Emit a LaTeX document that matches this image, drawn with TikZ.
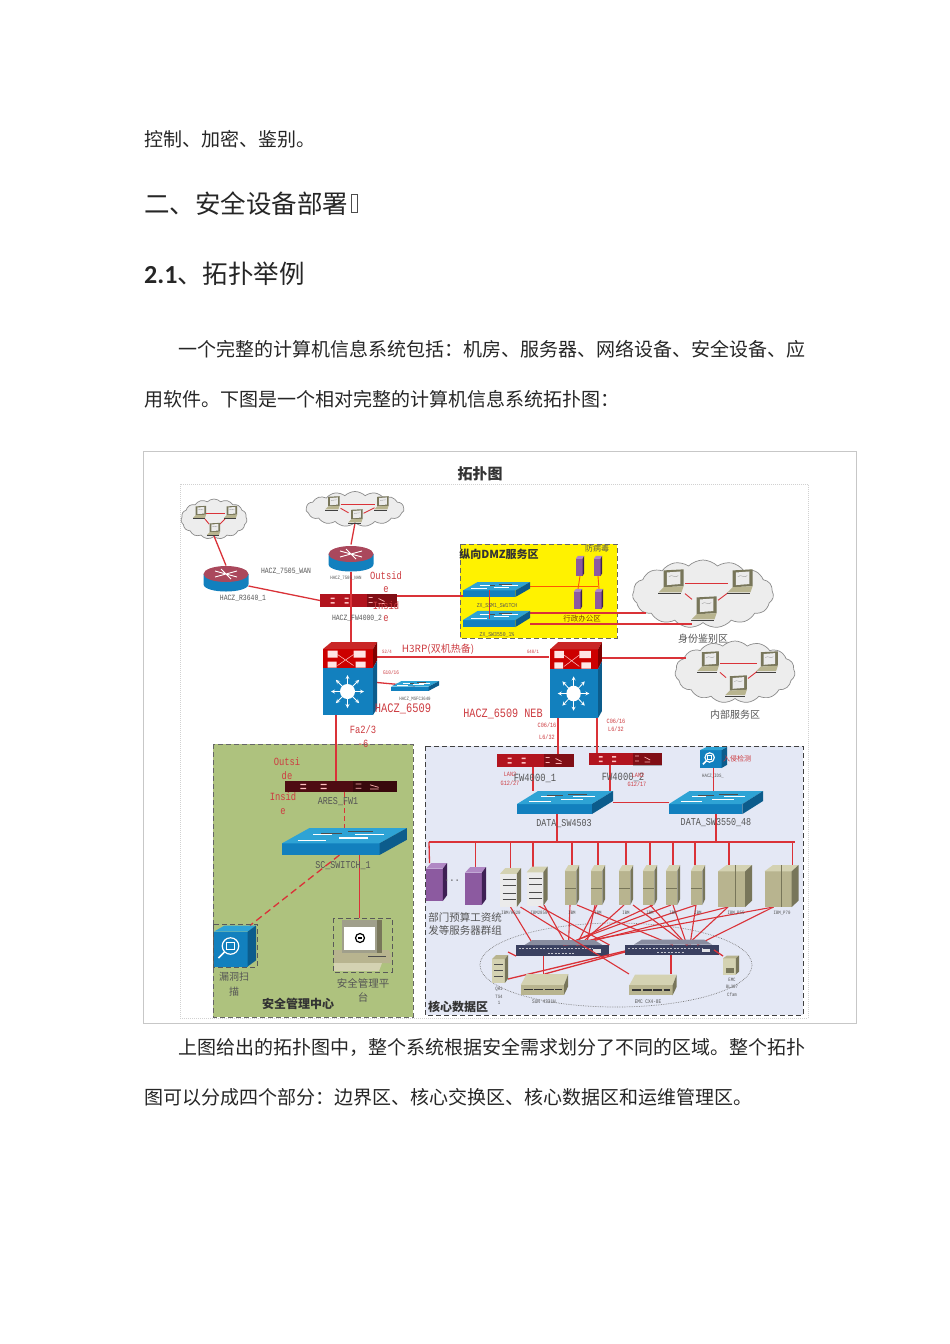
\documentclass[tikz,border=0pt]{standalone}
\usepackage{fontspec}
\usepackage{xcolor}
\usetikzlibrary{shapes.symbols}
\newfontfamily\cjk{Noto Sans CJK SC}
\newfontfamily\lab[FakeStretch=0.8]{Liberation Mono}
\newfontfamily\carl{Carlito}
\newcommand{\fs}[1]{\fontsize{#1}{#1}\selectfont}
\definecolor{redln}{RGB}{218,50,56}
\definecolor{redtx}{RGB}{205,60,65}
\definecolor{gytx}{RGB}{85,85,85}
\definecolor{swtop}{RGB}{46,163,213}
\definecolor{swfront}{RGB}{18,128,190}
\definecolor{swside}{RGB}{12,92,140}
\definecolor{tanf}{RGB}{184,180,143}
\definecolor{tans}{RGB}{120,118,90}
\definecolor{tant}{RGB}{212,210,178}
\definecolor{purf}{RGB}{140,90,160}
\definecolor{purs}{RGB}{62,32,84}
\definecolor{purt}{RGB}{176,136,196}
\definecolor{fwred}{RGB}{178,20,30}
\definecolor{fwdark}{RGB}{78,12,18}
\definecolor{fcslate}{RGB}{58,64,96}
\definecolor{zonegreen}{RGB}{174,194,126}
\definecolor{zoneblue}{RGB}{228,232,245}
\definecolor{rtrtop}{RGB}{170,72,92}
\tikzset{
    bodytxt/.style={anchor=west,inner sep=0pt,font=\cjk\fs{19},text=black!85},
    headtxt/.style={anchor=west,inner sep=0pt,font=\cjk\fs{25.5},text=black!85},
    zhlab/.style={inner sep=0pt,font=\cjk\fs{#1},text=gytx},
    zhbold/.style={inner sep=0pt,font=\cjk\bfseries\fs{#1},text=black!80},
    redzh/.style={inner sep=0pt,font=\cjk\fs{#1},text=redtx},
    redlab/.style={inner sep=0pt,font=\lab\fs{#1},text=redtx},
    gylab/.style={inner sep=0pt,font=\lab\fs{#1},text=gytx},
    devbox/.style={inner sep=0pt,outer sep=0pt},
    netcloud/.style={cloud,cloud puffs=15,cloud puff arc=90,aspect=2,inner sep=0pt,draw=black!45,fill=black!7,line width=.7pt},
    zonebox/.style={draw=black!60,dashed,dash pattern=on 5pt off 3pt,line width=.9pt},
    link/.style={draw=redln,line width=1.3pt},
    thinlink/.style={draw=redln,line width=.9pt},
    fwbox/.style={devbox,fill=#1},
    pics/lap/.style={code={
        \fill[tans] (-8,-12) -- (11,-13) -- (11,3) -- (-8,4) -- cycle;
        \fill[black!8] (-5,-10) -- (8,-11) -- (8,1) -- (-5,2) -- cycle;
        \draw[black!45,line width=.3pt] (-3,-6) .. controls (0,-9) and (3,-4) .. (6,-7);
        \fill[tanf] (-8,4) -- (11,3) -- (9,9) -- (-13,9) -- cycle;
        \draw[black!75,line width=.8pt] (-13,10) -- (9,10);
    }},
    pics/router/.style={code={
        \fill[swfront] (-22.5,-4) -- (-22.5,6) .. controls (-22.5,16) and (22.5,16) .. (22.5,6) -- (22.5,-4) -- cycle;
        \fill[rtrtop] (0,-4) ellipse [x radius=22.5,y radius=8];
        \draw[white,line width=.9pt] (-11,-7) -- (11,-1) (-11,-1) -- (11,-7) (-5,-9) -- (5,1);
    }},
    pics/swpic/.style={code={
        \fill[swfront] (-48,1.5) -- (27,1.5) -- (27,11.5) -- (-48,11.5) -- cycle;
        \fill[swtop] (-48,1.5) -- (27,1.5) -- (48,-11.5) -- (-27,-11.5) -- cycle;
        \fill[swside] (27,1.5) -- (48,-11.5) -- (48,-1.5) -- (27,11.5) -- cycle;
        \draw[black!70,line width=.6pt] (-18,-7) -- (-2,-7) (3,-8.5) -- (22,-8.5);
        \draw[white,line width=1.1pt] (-36,-1) -- (-14,-1) (-4,-3) -- (18,-3) (-24,-6) -- (-10,-6) (8,-6) -- (30,-6);
    }},
    pics/core/.style={code={
        \fill[red!80!black] (-26.5,-29.5) -- (23.5,-29.5) -- (23.5,-10.5) -- (-26.5,-10.5) -- cycle;
        \fill[red!75!black!85!white] (-26.5,-29.5) -- (-18,-36.5) -- (27.5,-36.5) -- (23.5,-29.5) -- cycle;
        \fill[red!50!black] (23.5,-29.5) -- (27.5,-36.5) -- (27.5,-18) -- (23.5,-10.5) -- cycle;
        \fill[white!90!red] (-22,-28) rectangle (-12,-21) (4,-28) rectangle (16,-21) (-22,-17) rectangle (-13,-11) (6,-17) rectangle (16,-11);
        \draw[white!80!red,line width=.5pt] (-12,-24) -- (4,-13) (-12,-13) -- (4,-24);
        \fill[swfront] (-27,-10.5) rectangle (23.5,36.5);
        \fill[swside] (23.5,-10.5) -- (27.5,-18) -- (27.5,30) -- (23.5,36.5) -- cycle;
        \fill[white] (-2,13) circle (7.5);
        \foreach \ang in {0,45,...,315}
            \draw[white,line width=.8pt,-stealth] (-2,13) ++(\ang:7) -- ++(\ang:9.5);
    }},
    pics/cube/.style n args={3}{code={
        \fill[#1] (-10,-7) rectangle (6,10);
        \fill[#3] (-10,-7) -- (-5,-10) -- (10,-10) -- (6,-7) -- cycle;
        \fill[#2] (6,-7) -- (10,-10) -- (10,7) -- (6,10) -- cycle;
    }},
    pics/stor/.style={code={
        \fill[tant] (-23.7,0.3) -- (-18,-10.3) -- (23.7,-10.3) -- (19.6,0.3) -- cycle;
        \fill[tanf] (-23.7,0.3) rectangle (19.6,10.3);
        \fill[tans] (19.6,0.3) -- (23.7,-10.3) -- (23.7,1.7) -- (19.6,10.3) -- cycle;
        \draw[black!80,line width=1.6pt,dash pattern=on 9pt off 1.5pt] (-21,5) -- (17,5);
    }},
    pics/fcdet/.style={code={
        \fill[fcslate!60!white] (-38,-5.5) -- (-30,-10.5) -- (32,-10.5) -- (40,-5.5) -- cycle;
        \draw[white!70!fcslate,line width=1pt,dash pattern=on 2pt off 1.5pt] (-44,-2) -- (30,-2);
        \draw[white!70!fcslate,line width=.7pt,dash pattern=on 2pt off 1.5pt] (-15,2.5) -- (12,2.5);
        \fill[white!85!fcslate] (30,-1.5) rectangle (38,2);
    }},
    pics/lens/.style={code={
        \draw[white,line width=1.2pt] (-1,0) circle (5.5);
        \draw[white,line width=1.6pt] (-5,4) -- (-9,8);
        \draw[white,line width=.9pt] (-3.5,-2.5) rectangle (1.5,2.5);
    }},
    pics/fwmarks/.style={code={
        \fill[black,opacity=.28] (8,-6.5) rectangle (38.5,6.5);
        \fill[white!75!red] (-28,-3) rectangle (-24,-1.5) (-28,1.5) rectangle (-24,3) (-14,-3) rectangle (-10,-1.5) (-14,1.5) rectangle (-10,3);
        \draw[white!70!red,line width=.7pt] (10,-3) -- (14,-3) (10,2) -- (14,2) (20,-2) -- (26,1) (20,3) -- (26,3);
    }},
    pics/pc/.style={code={
        \fill[tanf] (-28,5) -- (27,5) -- (29,10) -- (29,18) -- (-28,18) -- cycle;
        \fill[tans!70!white] (-20,-25) -- (20,-25) -- (20,8) -- (-20,8) -- cycle;
        \fill[tans] (15,-25) -- (20,-25) -- (20,8) -- (15,8) -- cycle;
        \fill[white] (-18,-18) rectangle (13,5);
        \draw[black,line width=1.2pt,fill=white] (-2,-7) circle (4.5);
        \fill[black] (-4,-8) rectangle (0,-6);
        \fill[tant] (-28,18) -- (20,18) -- (17,26) -- (-28,26) -- cycle;
        \draw[black!70,line width=.5pt] (6,11) -- (24,11);
    }}
}
\begin{document}
\begin{tikzpicture}[x=1pt,y=-1pt]
    \useasboundingbox (0,0) rectangle (950,1344);
    \fill[white] (0,0) rectangle (950,1344);
    % page text
    \node[bodytxt] (tline1) at (144,139) {控制、加密、鉴别。};
    \node[headtxt] (thead1) at (144,204) {二、安全设备部署};
    \node[devbox,draw=black!70,line width=.5pt,minimum width=6,minimum height=18] (tofu) at (354,203.5) {};
    \node[headtxt,font=\carl\bfseries\fs{26}] (thead2a) at (144,275) {2.1};
    \node[headtxt] (thead2b) at (177,274) {、拓扑举例};
    \node[bodytxt] (tline2) at (178,349) {一个完整的计算机信息系统包括：机房、服务器、网络设备、安全设备、应};
    \node[bodytxt] (tline3) at (144,399) {用软件。下图是一个相对完整的计算机信息系统拓扑图：};
    \node[bodytxt] (tline4) at (178,1047) {上图给出的拓扑图中，整个系统根据安全需求划分了不同的区域。整个拓扑};
    \node[bodytxt] (tline5) at (144,1097) {图可以分成四个部分：边界区、核心交换区、核心数据区和运维管理区。};
    % frames and zones
    \draw[black!22,line width=.8pt] (143.5,451.5) rectangle (856.5,1023);
    \draw[black!18,densely dotted,line width=1pt] (180,484) rectangle (808,1018);
    \node[zhbold=15] (ttitle) at (480,474) {拓扑图};
    \filldraw[zonebox,fill=yellow] (460,544) rectangle (617,638);
    \filldraw[zonebox,fill=zonegreen] (213,744) rectangle (413,1017);
    \filldraw[zonebox,fill=zoneblue,draw=black!75] (425,746) rectangle (803,1015);
    \draw[black!50,densely dotted,line width=.7pt] (616,965) ellipse [x radius=136,y radius=42];
    % clouds
    \node[netcloud,minimum width=66,minimum height=40] (cloudA) at (214,519) {};
    \node[netcloud,minimum width=98,minimum height=35] (cloudB) at (355,509) {};
    \node[netcloud,minimum width=141,minimum height=68] (cloudC) at (703,594) {};
    \node[netcloud,minimum width=120,minimum height=62] (cloudD) at (735,672) {};
    % device anchors
    \foreach \nm/\x/\y/\w/\h in {
        lapA1/200/513/12/12,lapA2/231/513/12/12,lapA3/214/530/12/12,
        lapB1/333/504/15/11,lapB2/382/504/15/11,lapB3/356/517/15/11,
        lapC1/672/583/26/24,lapC2/741/583/26/24,lapC3/705/610/26/24,
        lapD1/709/663/22/20,lapD2/768/663/22/20,lapD3/737/687/22/20}
        \node[devbox,minimum width=\w,minimum height=\h] (\nm) at (\x,\y) {};
    \node[devbox,minimum width=45,minimum height=25] (rtrA) at (226,578) {};
    \node[devbox,minimum width=45,minimum height=27] (rtrB) at (351,558) {};
    \node[fwbox=fwred,minimum width=77,minimum height=13] (fwTop) at (358.5,600.5) {};
    \node[devbox,minimum width=55,minimum height=73] (coreL) at (349.5,678.5) {};
    \node[devbox,minimum width=53,minimum height=76] (coreR) at (575.5,680) {};
    \node[devbox,minimum width=48,minimum height=10] (swMsfc) at (415,686) {};
    \node[devbox,minimum width=67,minimum height=15] (swZxA) at (496.5,589.5) {};
    \node[devbox,minimum width=67,minimum height=16] (swZxB) at (496.5,619) {};
    \node[fwbox=fwdark,minimum width=112,minimum height=11] (fwAres) at (341,786.5) {};
    \node[devbox,minimum width=125,minimum height=27] (swSc) at (344.5,841.5) {};
    \node[fwbox=fwred,minimum width=77,minimum height=13] (fwData1) at (535.5,760.5) {};
    \node[fwbox=fwred,minimum width=73,minimum height=12] (fwData2) at (625.5,759) {};
    \node[devbox,minimum width=96,minimum height=23] (swData1) at (565,802.5) {};
    \node[devbox,minimum width=94,minimum height=23] (swData2) at (716,802.5) {};
    \node[devbox,minimum width=27,minimum height=21] (ids) at (713.5,757.5) {};
    \node[devbox,minimum width=42,minimum height=41] (scan) at (235,946) {};
    \node[devbox,minimum width=59,minimum height=54] (mgmt) at (362,945) {};
    \foreach \nm/\x/\y in {srvPa/580/566,srvPb/598/566,srvPc/578/599,srvPd/599/599}
        \node[devbox,minimum width=8,minimum height=20] (\nm) at (\x,\y) {};
    \node[devbox,minimum width=21,minimum height=38] (purA) at (436.5,882) {};
    \node[devbox,minimum width=21,minimum height=38] (purB) at (475.5,886) {};
    \node[devbox,minimum width=21,minimum height=39] (whtA) at (510.5,887.5) {};
    \node[devbox,minimum width=20,minimum height=38] (whtB) at (537,886) {};
    \foreach \nm/\x in {tanA/572,tanB/598,tanC/626,tanD/650,tanE/673,tanF/698}
        \node[devbox,minimum width=14,minimum height=40] (\nm) at (\x,885) {};
    \node[devbox,minimum width=34,minimum height=42] (bigA) at (735,886) {};
    \node[devbox,minimum width=33,minimum height=42] (bigB) at (781.5,886) {};
    \node[fwbox=fcslate,minimum width=93,minimum height=11] (fcA) at (562.5,950.5) {};
    \node[fwbox=fcslate,minimum width=94,minimum height=10] (fcB) at (672,950) {};
    \node[devbox,minimum width=16,minimum height=28] (rack) at (500,969) {};
    \node[devbox,minimum width=47,minimum height=21] (storA) at (544.5,984.5) {};
    \node[devbox,minimum width=48,minimum height=22] (storB) at (653,985) {};
    \node[devbox,minimum width=16,minimum height=18] (disk) at (731,965) {};
    \coordinate (busL) at (429,842);
    \coordinate (busR) at (795,842);
    % connectors
    \draw[link] (cloudB.south) -- (rtrB.north);
    \draw[link] (rtrB.south) -- (rtrB.south |- coreL.north);
    \draw[link] (rtrA.north) -- (lapA3.south);
    \draw[link] ([yshift=-8pt]rtrA.east) -- (fwTop.west);
    \draw[link] ([yshift=4.5pt]fwTop.east) -- (swZxA.west |- 0,596);
    \draw[link] (coreR.west |- 0,657) -- (coreL.east |- 0,657);
    \draw[link] (coreR.east |- 0,658) -- ([xshift=11pt]cloudD.west |- 0,658);
    \draw[link] ([yshift=-4pt]coreL.east) -- (swMsfc.center);
    \draw[link] ([xshift=-13.5pt]coreL.south) -- ([xshift=-13.5pt]coreL.south |- fwAres.north);
    \draw[link] ([xshift=-17.5pt]coreR.south) -- ([xshift=-17.5pt]coreR.south |- fwData1.north);
    \draw[link] ([xshift=21.5pt]coreR.south) -- ([xshift=21.5pt]coreR.south |- fwData2.north);
    \draw[thinlink,draw=orange!70!red] (swZxA.east |- 0,586) -- (srvPb.south |- 0,586);
    \draw[thinlink,draw=orange!70!red] (srvPa.south) -- (srvPc.north);
    \draw[thinlink,draw=orange!70!red] (srvPb.south) -- (srvPd.north);
    \draw[link] (swZxB.east |- 0,613) -- ([xshift=14pt]cloudC.west |- 0,613);
    \draw[link] (swZxB.east |- 0,624) -- (lapC3.west |- 0,624);
    \draw[link,dashed,dash pattern=on 5pt off 3pt] (swSc.north |- fwAres.south) -- (swSc.north);
    \draw[link,dashed,dash pattern=on 7pt off 4pt] ([xshift=-5pt]swSc.south) -- ([xshift=15pt]scan.north);
    \draw[link] ([xshift=15pt]swSc.south) -- ([xshift=15pt]swSc.south |- mgmt.north);
    \draw[link] ([xshift=-2.5pt]fwData1.south) -- ([xshift=-2.5pt]fwData1.south |- swData1.north);
    \draw[link] ([xshift=-15.5pt]fwData2.south) -- ([xshift=-15.5pt]fwData2.south |- swData1.north);
    \draw[link] (swData1.east) -- (swData2.west);
    \draw[link] (ids.south) -- (ids.south |- swData2.north);
    \draw[link] (busL) -- (busR);
    \draw[link] ([xshift=-8pt]swData1.south) -- ([xshift=-8pt]swData1.south |- busL);
    \draw[link] (swData2.south) -- (swData2.south |- busL);
    \draw[link] (busL) -- ([xshift=-7pt]purA.north);
    \foreach \nm/\dx in {purB/0,whtA/0,whtB/-4,tanA/0,tanB/0,tanC/0,tanD/0,tanE/0,tanF/-3,bigA/-6,bigB/11}
        \draw[link] ([xshift=\dx pt]\nm.north) -- ([xshift=\dx pt]\nm.north |- busL);
    % cross links of the storage network
    \foreach \src/\sx/\dst/\dx in {
        whtA/0/fcA/-29,whtB/0/fcA/47,whtB/7/fcA/4,
        tanA/-2/fcA/6,tanA/5/fcB/1,tanB/-1/fcA/14,tanB/-3/fcA/24,
        tanC/-2/fcA/17,tanC/7/fcB/15,tanD/0/fcB/15,tanD/3/fcA/4,
        tanE/-2/fcA/1,tanE/0/fcB/15,tanF/-2/fcB/18,tanF/-2/fcA/14,
        bigA/-7/fcA/14,bigA/-7/fcB/15,bigB/-8/fcA/1,bigB/-8/fcB/25}
        \draw[link,line width=1.1pt] ([xshift=\sx pt]\src.south) -- ([xshift=\dx pt]\dst.north);
    \pic at (fcA) {fcdet};
    \pic at (fcB) {fcdet};
    \draw[link,line width=1.1pt] ([xshift=10pt]whtA.south) -- (storB.north west);
    \draw[link] ([yshift=3pt]rack.north east) -- (fcA.south west);
    \draw[link] ([yshift=-10pt]rack.east) -- ([yshift=-1pt]fcB.west);
    \draw[link] (storA.north) -- ([yshift=-2pt]fcB.west);
    \draw[link] ([xshift=-19pt]fcA.south) -- ([xshift=-19pt]fcA.south |- storA.north);
    \draw[link] ([xshift=-1pt]fcB.south) -- ([xshift=-1pt]fcB.south |- storB.north);
    \draw[link] ([xshift=-5pt]fcB.east) -- (disk.north west);
    % laptops and lines in the clouds
    \foreach \a/\b in {lapA1/lapA2,lapA1/lapA3,lapA2/lapA3,lapB1/lapB2,lapB1/lapB3,lapB2/lapB3,lapC1/lapC2,lapC1/lapC3,lapC2/lapC3,lapD1/lapD2,lapD1/lapD3,lapD2/lapD3}
        \draw[thinlink] (\a) -- (\b);
    \foreach \nm/\sc in {lapA1/.55,lapA2/.55,lapA3/.55,lapB1/.6,lapB2/.6,lapB3/.6,lapC1/1.05,lapC2/1.05,lapC3/1.05,lapD1/.9,lapD2/.9,lapD3/.9}
        \pic[scale=\sc] at (\nm) {lap};
    % devices
    \pic at (rtrA) {router};
    \pic at (rtrB) {router};
    \pic at (fwTop) {fwmarks};
    \pic at (fwData1) {fwmarks};
    \pic[xscale=.95] at (fwData2) {fwmarks};
    \pic[xscale=1.45,yscale=.85] at (fwAres) {fwmarks};
    \pic at (coreL) {core};
    \pic[yscale=1.04,xscale=.96] at (coreR) {core};
    \pic[xscale=.5,yscale=.43] at (swMsfc) {swpic};
    \pic[xscale=.7,yscale=.65] at (swZxA) {swpic};
    \pic[xscale=.7,yscale=.7] at (swZxB) {swpic};
    \draw[link] ([xshift=-7pt]swZxA.center) -- ([xshift=-7pt]swZxB.center);
    \pic[xscale=1.3,yscale=1.17] at (swSc) {swpic};
    \pic at (swData1) {swpic};
    \pic[xscale=.98] at (swData2) {swpic};
    \foreach \nm in {srvPa,srvPb,srvPc,srvPd}
        \pic[xscale=.42,yscale=1.02] at (\nm) {cube={purf}{purs}{purt}};
    \foreach \nm in {purA,purB}
        \pic[xscale=1.05,yscale=1.9] at (\nm) {cube={purf}{purs}{purt}};
    \foreach \nm in {whtA,whtB}{
        \pic[xscale=1.05,yscale=1.95] at (\nm) {cube={black!8}{tans}{tant}};
        \draw[black!70,line width=1pt] ([xshift=-8pt,yshift=8pt]\nm.center) -- ([xshift=5pt,yshift=8pt]\nm.center)
            ([xshift=-8pt,yshift=2pt]\nm.center) -- ([xshift=5pt,yshift=2pt]\nm.center)
            ([xshift=-8pt,yshift=-6pt]\nm.center) -- ([xshift=5pt,yshift=-6pt]\nm.center)
            ([xshift=-8pt,yshift=-12pt]\nm.center) -- ([xshift=5pt,yshift=-12pt]\nm.center);
    }
    \foreach \nm in {tanA,tanB,tanC,tanD,tanE,tanF}{
        \pic[xscale=.72,yscale=2] at (\nm) {cube={tanf}{tans}{tant}};
        \draw[tans,line width=.5pt] ([xshift=-7pt,yshift=-3pt]\nm.center) -- ([xshift=4pt,yshift=-3pt]\nm.center);
    }
    \foreach \nm in {bigA,bigB}{
        \pic[xscale=1.7,yscale=2.1] at (\nm) {cube={tanf}{tans}{tant}};
        \draw[tans,line width=.8pt] (\nm.north) -- (\nm.south);
    }
    \pic[xscale=2.1,yscale=2.05] at (scan) {cube={swfront}{swside}{swtop}};
    \pic[scale=1.5] at ([xshift=-3pt]scan.center) {lens};
    \pic[xscale=1.35,yscale=1.05] at (ids) {cube={swfront}{swside}{swtop}};
    \pic[scale=.85] at ([xshift=-3pt]ids.center) {lens};
    \pic at (mgmt) {pc};
    \draw[zonebox,black!65,line width=.8pt] (213,924) rectangle (257,967);
    \draw[zonebox,black!65,line width=.8pt] (333,918) rectangle (392,972);
    \pic[xscale=.8,yscale=1.4] at (rack) {cube={tant}{tans}{tanf}};
    \draw[black!70,line width=.9pt] (494,964) -- (503,964) (494,970) -- (503,970) (494,976) -- (503,976);
    \pic at (storA) {stor};
    \pic at (storB) {stor};
    \pic[xscale=.8,yscale=.95] at (disk) {cube={tant}{tans}{tanf}};
    \fill[tans] (726,968) rectangle (734,973);
    % labels in the upper part
    \node[gylab=8] (lbWan) at (286,571) {HACZ\_7505\_WAN};
    \node[gylab=5] (lbNan) at (346,578) {HACZ\_7505\_NAN};
    \node[gylab=8] (lbR3640) at (243,598) {HACZ\_R3640\_1};
    \node[gylab=8] (lbFw2) at (357,618) {HACZ\_FW4000\_2};
    \node[redlab=11] (lbOut1) at (386,576) {Outsid};
    \node[redlab=11] (lbOut2) at (386,590) {e};
    \node[redlab=11] (lbIn1) at (386,606) {Insid};
    \node[redlab=11] (lbIn2) at (386,619) {e};
    \node[redzh=10] (lbH3rp) at (438,649) {H3RP(双机热备)};
    \node[redlab=5] (lbS24) at (387,652) {S2/4};
    \node[redlab=5] (lbG48) at (533,652) {G48/1};
    \node[redlab=5.5] (lbG10) at (391,673) {G10/16};
    \node[gylab=5] (lbMsfc) at (415,699) {HACZ\_MSFC3640};
    \node[redlab=13] (lb6509a) at (403,709) {HACZ\_6509};
    \node[redlab=12.7] (lb6509b) at (503,714) {HACZ\_6509 NEB};
    \node[redlab=11] (lbFa) at (363,730) {Fa2/3};
    \node[redlab=11] (lbFa2) at (363,744) {-6};
    \node[redlab=6.5] (lbC1) at (547,725) {C06/16};
    \node[redlab=6.5] (lbC2) at (547,737) {L6/32};
    \node[redlab=6.5] (lbC3) at (616,721) {C06/16};
    \node[redlab=6.5] (lbC4) at (616,729) {L6/32};
    \node[zhbold=11] (lbDmz) at (499,554) {纵向DMZ服务区};
    \node[zhlab=8] (lbVirus) at (597,548) {防病毒};
    \node[gylab=6] (lbZx1) at (497,606) {ZX\_SSM1\_SW1TCH};
    \node[zhlab=7.5,text=orange!50!black] (lbAdmin) at (582,619) {行政办公区};
    \node[gylab=6] (lbZx2) at (497,635) {ZX\_SW3550\_1\%};
    \node[zhlab=10] (lbAuth) at (703,639) {身份鉴别区};
    \node[zhlab=10] (lbIntl) at (735,715) {内部服务区};
    % labels in the two zones
    \node[redlab=11] (lbOa) at (287,762) {Outsi};
    \node[redlab=11] (lbOb) at (287,776) {de};
    \node[redlab=11] (lbIa) at (283,797) {Insid};
    \node[redlab=11] (lbIb) at (283,812) {e};
    \node[gylab=10.5] (lbAres) at (338,802) {ARES\_FW1};
    \node[gylab=10.5] (lbSc) at (343,866) {SC\_SWITCH\_1};
    \node[zhlab=10] (lbScan1) at (234,977) {漏洞扫};
    \node[zhlab=10] (lbScan2) at (234,992) {描};
    \node[zhlab=10.5] (lbMg1) at (363,983) {安全管理平};
    \node[zhlab=10.5] (lbMg2) at (363,997) {台};
    \node[zhbold=12] (lbCenter) at (298,1004) {安全管理中心};
    \node[redlab=6.5] (lbLan1) at (510,774) {LAN2};
    \node[redlab=6.5] (lbGa) at (510,783) {G12/27};
    \node[gylab=11] (lbFwd1) at (535,778) {FW4000\_1};
    \node[gylab=11] (lbFwd2) at (623,777) {FW4000\_2};
    \node[redlab=6.5] (lbLan2) at (638,775) {LAN2};
    \node[redlab=6.5] (lbGb) at (637,784) {G12/17};
    \node[redzh=7] (lbIds) at (737,759) {入侵检测};
    \node[gylab=5] (lbIdsn) at (713,776) {HACZ\_IDS\_};
    \node[gylab=10.5] (lbSwd1) at (564,824) {DATA\_SW4503};
    \node[gylab=10.5] (lbSwd2) at (716,823) {DATA\_SW3550\_48};
    \node[gylab=11] (lbDots) at (452,881) {...};
    \node[zhlab=10.5] (lbGrp1) at (465,917) {部门预算工资统};
    \node[zhlab=10.5] (lbGrp2) at (465,930) {发等服务器群组};
    \node[gylab=5] (lbW1) at (511,913) {IBM/HS20};
    \node[gylab=5] (lbW2) at (539,913) {IBM2850};
    \foreach \nm/\x/\t in {lbT1/572/IBM,lbT2/598/IBM,lbT3/626/IBM,lbT4/650/IBM,lbT5/673/IBM,lbT6/698/IBM}
        \node[gylab=5] (\nm) at (\x,913) {\t};
    \node[gylab=5] (lbBig1) at (736,913) {IBM\_P55};
    \node[gylab=5] (lbBig2) at (782,913) {IBM\_P70};
    \node[gylab=5] (lbQa) at (499,989) {QH1};
    \node[gylab=5] (lbQb) at (499,997) {TS4};
    \node[gylab=5] (lbQc) at (499,1003) {1};
    \node[gylab=5.5] (lbSta) at (544,1002) {SUN 4331H};
    \node[gylab=5.5] (lbStb) at (648,1002) {EMC CX4-8E};
    \node[gylab=5] (lbDa) at (732,980) {EMC};
    \node[gylab=5] (lbDb) at (732,987) {BL307};
    \node[gylab=5] (lbDc) at (732,995) {Cfam};
    \node[zhbold=12] (lbCoreData) at (458,1007) {核心数据区};
\end{tikzpicture}
\end{document}
